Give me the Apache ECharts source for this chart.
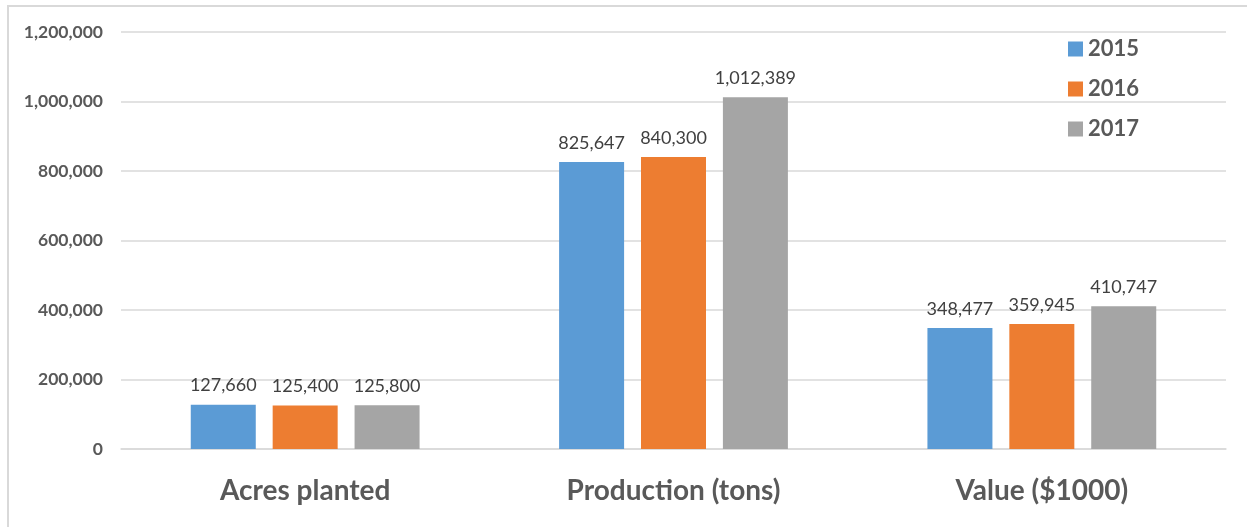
<!DOCTYPE html>
<html>
<head>
<meta charset="utf-8">
<script src="https://cdn.jsdelivr.net/npm/echarts@6/dist/echarts.min.js"></script>
<style>
  html, body { margin: 0; padding: 0; background: #fff; }
  #chart { width: 1247px; height: 527px; }
</style>
</head>
<body>
<div id="chart"></div>
<script>
// Crop statistics by year
const categories = ['Acres planted', 'Production (tons)', 'Value ($1000)'];
const years = ['2015', '2016', '2017'];
const values2015 = [127660, 825647, 348477];
const values2016 = [125400, 840300, 359945];
const values2017 = [125800, 1012389, 410747];
const colors = ['#5b9bd5', '#ed7d31', '#a5a5a5'];

const fontFamily = 'Lato, "Open Sans", "Noto Sans", sans-serif';
const fmt = v => v.toLocaleString('en-US');

const seriesData = [values2015, values2016, values2017];

const chart = echarts.init(document.getElementById('chart'), null, { renderer: 'canvas' });
chart.setOption({
  backgroundColor: '#ffffff',
  animation: false,
  textStyle: { fontFamily },
  graphic: [{
    type: 'rect',
    shape: { x: 8, y: 6, width: 1400, height: 700 },
    style: { fill: 'none', stroke: '#d9d9d9', lineWidth: 2 },
    silent: true
  }],
  grid: { left: 121, right: 21, top: 32, bottom: 78, containLabel: false },
  legend: {
    orient: 'vertical',
    left: 1063,
    top: 33,
    itemWidth: 15,
    itemHeight: 15,
    itemGap: 18,
    icon: 'rect',
    textStyle: { fontSize: 22, fontWeight: 'bold', color: '#595959', fontFamily },
    data: years
  },
  xAxis: {
    type: 'category',
    data: categories,
    axisLine: { show: true, lineStyle: { color: '#d9d9d9', width: 1.5 } },
    axisTick: { show: false },
    axisLabel: { fontSize: 28, fontWeight: 'bold', color: '#595959', margin: 28, fontFamily }
  },
  yAxis: {
    type: 'value',
    min: 0,
    max: 1200000,
    interval: 200000,
    axisLine: { show: false },
    axisTick: { show: false },
    splitLine: { lineStyle: { color: '#d9d9d9', width: 1.5 } },
    axisLabel: {
      fontSize: 17.5, fontWeight: 'bold', color: '#595959', margin: 18, fontFamily,
      formatter: v => fmt(v)
    }
  },
  series: years.map((y, i) => ({
    name: y,
    type: 'bar',
    data: seriesData[i],
    barWidth: 65,
    barGap: '26%',
    itemStyle: { color: colors[i] },
    label: {
      show: true,
      position: 'top',
      distance: 10,
      fontSize: 18,
      color: '#404040',
      fontFamily,
      formatter: p => fmt(p.value)
    }
  }))
});
</script>
</body>
</html>
